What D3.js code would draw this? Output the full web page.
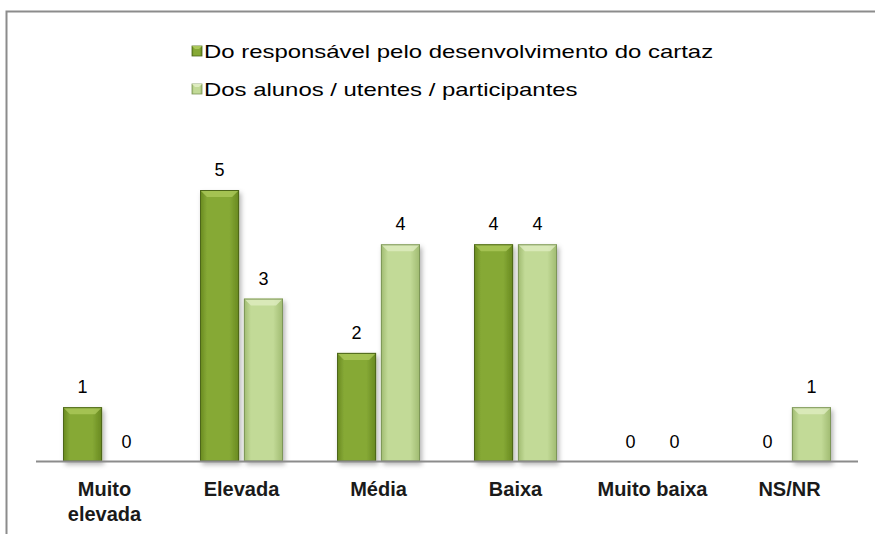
<!DOCTYPE html>
<html>
<head>
<meta charset="UTF-8">
<title>Avaliação</title>
<style>
body { margin: 0; background: #fff; }
text { font-family: "Liberation Sans", Arial, sans-serif; }
</style>
</head>
<body>
<script src="https://cdn.jsdelivr.net/npm/d3@7/dist/d3.min.js"></script>
<script>
// chart data
var categories = ["Muito elevada", "Elevada", "Média", "Baixa", "Muito baixa", "NS/NR"];
var seriesNames = ["Do responsável pelo desenvolvimento do cartaz", "Dos alunos / utentes / participantes"];
var responsavel = [1, 5, 2, 4, 0, 0];
var alunos = [0, 3, 4, 4, 0, 1];

var width = 875, height = 534;
var baseY = 461.5;

var svg = d3.select("body").append("svg")
  .attr("width", width)
  .attr("height", height);

var defs = svg.append("defs");

// colour sets per series: edge, middle, bevel top, outline
var palette = [
  {edge: "#67881f", mid: "#86a935", top: "#abc85a", line: "#4d661a"},
  {edge: "#9fba70", mid: "#c2da97", top: "#deecc0", line: "#7d9658"}
];
palette.forEach(function(p, i) {
  var g = defs.append("linearGradient").attr("id", "grad" + i)
    .attr("x1", 0).attr("x2", 1).attr("y1", 0).attr("y2", 0);
  g.append("stop").attr("offset", "0%").attr("stop-color", p.edge);
  g.append("stop").attr("offset", "18%").attr("stop-color", p.mid);
  g.append("stop").attr("offset", "75%").attr("stop-color", p.mid);
  g.append("stop").attr("offset", "100%").attr("stop-color", p.edge);
});
var shadow = defs.append("filter").attr("id", "shadow")
  .attr("x", "-30%").attr("y", "-10%").attr("width", "160%").attr("height", "130%");
shadow.append("feDropShadow").attr("dx", 2).attr("dy", 3)
  .attr("stdDeviation", 2.5).attr("flood-color", "#000").attr("flood-opacity", 0.3);

// frame
svg.append("path")
  .attr("d", "M6.5," + height + "V11.5H" + width)
  .attr("fill", "none")
  .attr("stroke", "#8c8c8c")
  .attr("stroke-width", 2);

var x0 = d3.scaleBand().domain(categories).range([36, 858]).paddingInner(0).paddingOuter(0);
var x1 = d3.scaleBand().domain([0, 1]).range([27, 110]).paddingInner(0.11);
var y = d3.scaleLinear().domain([0, 5]).range([baseY, 190]);

var data = categories.map(function(c, i) {
  return {cat: c, values: [responsavel[i], alunos[i]]};
});

var groups = svg.selectAll("g.cat").data(data).enter().append("g")
  .attr("class", "cat")
  .attr("transform", function(d) { return "translate(" + x0(d.cat) + ",0)"; });

var bars = groups.selectAll("g.bar")
  .data(function(d) { return d.values.map(function(v, s) { return {v: v, s: s}; }); })
  .enter().append("g").attr("class", "bar");

bars.filter(function(d) { return d.v > 0; }).each(function(d) {
  var g = d3.select(this);
  var bx = x1(d.s), bw = x1.bandwidth(), top = y(d.v), h = baseY - top;
  var p = palette[d.s];
  var bv = 7;
  g.append("rect")
    .attr("x", bx).attr("y", top).attr("width", bw).attr("height", h)
    .attr("fill", "url(#grad" + d.s + ")")
    .attr("filter", "url(#shadow)");
  g.append("path")
    .attr("d", "M" + bx + "," + top + "H" + (bx + bw) + "L" + (bx + bw - bv) + "," + (top + bv) +
      "H" + (bx + bv) + "Z")
    .attr("fill", p.top).attr("opacity", 0.8);
  g.append("rect")
    .attr("x", bx + 0.5).attr("y", top + 0.5).attr("width", bw - 1).attr("height", h - 1)
    .attr("fill", "none").attr("stroke", p.line).attr("stroke-width", 1);
});

bars.append("text")
  .attr("x", function(d) { return x1(d.s) + x1.bandwidth() / 2; })
  .attr("y", function(d) { return y(d.v) - 14; })
  .attr("text-anchor", "middle")
  .attr("font-size", "18px")
  .attr("fill", "#000")
  .text(function(d) { return d.v; });

// axis line
svg.append("line")
  .attr("x1", 36).attr("x2", 858)
  .attr("y1", baseY).attr("y2", baseY)
  .attr("stroke", "#8c8c8c").attr("stroke-width", 2);

// category labels, wrapped when too wide
groups.each(function(d) {
  var t = d3.select(this).append("text")
    .attr("text-anchor", "middle")
    .attr("font-size", "20px")
    .attr("font-weight", "bold")
    .attr("fill", "#1a1a1a");
  var lines = d.cat.length > 11 ? d.cat.split(" ") : [d.cat];
  lines.forEach(function(l, i) {
    t.append("tspan")
      .attr("x", x0.bandwidth() / 2)
      .attr("y", 496 + i * 25)
      .text(l);
  });
});

// legend
var legend = svg.selectAll("g.legend").data(seriesNames).enter().append("g")
  .attr("class", "legend")
  .attr("transform", function(d, i) { return "translate(192," + (51 + i * 38) + ")"; });
legend.append("rect")
  .attr("x", 0).attr("y", -5).attr("width", 10).attr("height", 10)
  .attr("fill", function(d, i) { return "url(#grad" + i + ")"; })
  .attr("stroke", function(d, i) { return palette[i].line; })
  .attr("stroke-width", 0.8);
legend.append("path")
  .attr("d", "M0,-5H10L7,-2H3Z")
  .attr("fill", function(d, i) { return palette[i].top; });
legend.append("text")
  .attr("transform", "translate(12,6.5) scale(1.33,1)")
  .attr("font-size", "18px")
  .attr("fill", "#000")
  .text(function(d) { return d; });
</script>
</body>
</html>
